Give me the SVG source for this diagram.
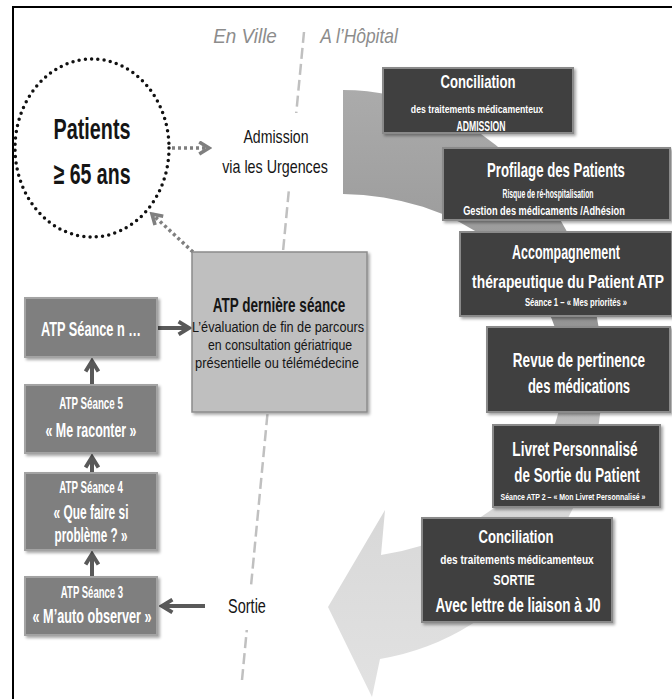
<svg xmlns="http://www.w3.org/2000/svg" width="672" height="699" viewBox="0 0 672 699">
<defs>
<style>
text{font-family:'Liberation Sans',Arial,sans-serif;text-anchor:middle}
.wt{fill:#fff;font-weight:bold}
.bk{fill:#151515}
.hd{fill:#8c8c8c;font-style:italic}
.dark{fill:#404040;stroke:#8a8a8a;stroke-width:2}
.mid{fill:#7f7f7f;stroke:#a3a3a3;stroke-width:2}
.solid{stroke:#595959;stroke-width:4;fill:none}
.dot{stroke:#7f7f7f;stroke-width:3.5;stroke-dasharray:3 3;fill:none}
</style>
<linearGradient id="bandG" gradientUnits="userSpaceOnUse" x1="0" y1="90" x2="0" y2="697">
<stop offset="0" stop-color="#ababab"/>
<stop offset="0.38" stop-color="#939393"/>
<stop offset="0.64" stop-color="#d6d6d6"/>
<stop offset="1" stop-color="#e2e2e2"/>
</linearGradient>
<filter id="sh" x="-10%" y="-10%" width="125%" height="130%">
<feDropShadow dx="2" dy="2" stdDeviation="1.8" flood-color="#000" flood-opacity="0.35"/>
</filter>
<marker id="chev" viewBox="0 0 10 10" refX="8" refY="5" markerWidth="16" markerHeight="16" markerUnits="userSpaceOnUse" orient="auto">
<path d="M1.5,1 L8,5 L1.5,9" fill="none" stroke="#595959" stroke-width="2.4"/>
</marker>
<marker id="chevG" viewBox="0 0 10 10" refX="8" refY="5" markerWidth="15" markerHeight="15" markerUnits="userSpaceOnUse" orient="auto">
<path d="M1.5,1 L8,5 L1.5,9" fill="none" stroke="#7f7f7f" stroke-width="2.4"/>
</marker>
</defs>
<rect width="672" height="699" fill="#fff"/>
<rect x="13" y="7" width="680" height="700" fill="none" stroke="#000" stroke-width="2"/>

<g id="flow-band">
<path d="M343,90 A260,286 0 0 1 380,659 L372,697 L328,607 L385,510 L381,555 A222,182 0 0 0 343,194 Z" fill="url(#bandG)"/>
</g>
<g id="divider">
<line x1="304" y1="32" x2="242" y2="680" stroke="#c0c0c0" stroke-width="2.5" stroke-dasharray="11 5"/>
<text class="hd" transform="translate(245,43) scale(.7,1)" font-size="20" textLength="91" lengthAdjust="spacingAndGlyphs">En Ville</text>
<text class="hd" transform="translate(359,43) scale(.7,1)" font-size="20" textLength="111" lengthAdjust="spacingAndGlyphs">A l’Hôpital</text>
</g>

<g id="connectors">
<line class="dot" x1="172" y1="148" x2="209" y2="148" marker-end="url(#chevG)"/>
<line class="dot" x1="193" y1="252" x2="152" y2="214" marker-end="url(#chevG)"/>
<line class="solid" x1="158" y1="328" x2="189" y2="328" marker-end="url(#chev)"/>
<line class="solid" x1="92" y1="385" x2="92" y2="361" marker-end="url(#chev)"/>
<line class="solid" x1="92" y1="473" x2="92" y2="457" marker-end="url(#chev)"/>
<line class="solid" x1="92" y1="577" x2="92" y2="554" marker-end="url(#chev)"/>
<line class="solid" x1="205" y1="606" x2="162" y2="606" marker-end="url(#chev)"/>
</g>

<g id="patients">
<ellipse cx="92" cy="148" rx="77" ry="89" fill="none" stroke="#111" stroke-width="3.5" stroke-linecap="round" stroke-dasharray="0 6.3"/>
<text class="bk" transform="translate(92,139) scale(.7,1)" font-size="30" font-weight="bold" textLength="110" lengthAdjust="spacingAndGlyphs">Patients</text>
<text class="bk" transform="translate(92,184) scale(.7,1)" font-size="30" font-weight="bold" textLength="110" lengthAdjust="spacingAndGlyphs">≥ 65 ans</text>
</g>

<g id="admission">
<rect x="213" y="113" width="124" height="77" fill="#fff"/>
<text class="bk" transform="translate(276,143) scale(.7,1)" font-size="19" textLength="93" lengthAdjust="spacingAndGlyphs">Admission</text>
<text class="bk" transform="translate(275,173) scale(.7,1)" font-size="19" textLength="151" lengthAdjust="spacingAndGlyphs">via les Urgences</text>
</g>

<g id="atp-derniere">
<rect x="192" y="252" width="175" height="160" fill="#bfbfbf" stroke="#8c8c8c" stroke-width="1.5" filter="url(#sh)"/>
<text class="bk" transform="translate(279,312) scale(.7,1)" font-size="21" font-weight="bold" textLength="189" lengthAdjust="spacingAndGlyphs">ATP dernière séance</text>
<text class="bk" transform="translate(278,332) scale(.7,1)" font-size="15" textLength="246" lengthAdjust="spacingAndGlyphs">L’évaluation de fin de parcours</text>
<text class="bk" transform="translate(280,350) scale(.7,1)" font-size="15" textLength="206" lengthAdjust="spacingAndGlyphs">en consultation gériatrique</text>
<text class="bk" transform="translate(277,368) scale(.7,1)" font-size="15" textLength="234" lengthAdjust="spacingAndGlyphs">présentielle ou télémédecine</text>
</g>

<g id="seance-n">
<rect class="mid" x="25" y="298" width="132" height="59" filter="url(#sh)"/>
<text class="wt" transform="translate(91,336) scale(.7,1)" font-size="20" textLength="143" lengthAdjust="spacingAndGlyphs">ATP Séance n …</text>
</g>
<g id="seance-5">
<rect class="mid" x="25" y="385" width="132" height="68" filter="url(#sh)"/>
<text class="wt" transform="translate(91,409) scale(.7,1)" font-size="16" textLength="91" lengthAdjust="spacingAndGlyphs">ATP Séance 5</text>
<text class="wt" transform="translate(91,437) scale(.7,1)" font-size="20" textLength="130" lengthAdjust="spacingAndGlyphs">« Me raconter »</text>
</g>
<g id="seance-4">
<rect class="mid" x="25" y="473" width="132" height="77" filter="url(#sh)"/>
<text class="wt" transform="translate(91,493) scale(.7,1)" font-size="16" textLength="91" lengthAdjust="spacingAndGlyphs">ATP Séance 4</text>
<text class="wt" transform="translate(91,519) scale(.7,1)" font-size="20" textLength="107" lengthAdjust="spacingAndGlyphs">« Que faire si</text>
<text class="wt" transform="translate(91,542) scale(.7,1)" font-size="20" textLength="104" lengthAdjust="spacingAndGlyphs">problème ? »</text>
</g>
<g id="seance-3">
<rect class="mid" x="25" y="577" width="132" height="58" filter="url(#sh)"/>
<text class="wt" transform="translate(92,598) scale(.7,1)" font-size="16" textLength="89" lengthAdjust="spacingAndGlyphs">ATP Séance 3</text>
<text class="wt" transform="translate(92,623) scale(.7,1)" font-size="20" textLength="170" lengthAdjust="spacingAndGlyphs">« M’auto observer »</text>
</g>

<g id="sortie">
<rect x="205" y="586" width="88" height="44" fill="#fff"/>
<text class="bk" transform="translate(247,613) scale(.7,1)" font-size="20" textLength="54" lengthAdjust="spacingAndGlyphs">Sortie</text>
</g>

<g id="conciliation-admission">
<rect class="dark" x="383" y="68" width="190" height="65" filter="url(#sh)"/>
<text class="wt" transform="translate(478,88) scale(.7,1)" font-size="19" textLength="107" lengthAdjust="spacingAndGlyphs">Conciliation</text>
<text class="wt" transform="translate(477,113) scale(.7,1)" font-size="11" textLength="189" lengthAdjust="spacingAndGlyphs">des traitements médicamenteux</text>
<text class="wt" transform="translate(481,131) scale(.7,1)" font-size="14" textLength="70" lengthAdjust="spacingAndGlyphs">ADMISSION</text>
</g>

<g id="profilage">
<rect class="dark" x="443" y="148" width="227" height="72" filter="url(#sh)"/>
<text class="wt" transform="translate(556,177) scale(.7,1)" font-size="20" textLength="197" lengthAdjust="spacingAndGlyphs">Profilage des Patients</text>
<text class="wt" transform="translate(548,198) scale(.7,1)" font-size="12" textLength="130" lengthAdjust="spacingAndGlyphs">Risque de ré-hospitalisation</text>
<text class="wt" transform="translate(544,215) scale(.7,1)" font-size="12" textLength="231" lengthAdjust="spacingAndGlyphs">Gestion des médicaments /Adhésion</text>
</g>

<g id="accompagnement">
<rect class="dark" x="460" y="232" width="212" height="84" filter="url(#sh)"/>
<text class="wt" transform="translate(566,259) scale(.7,1)" font-size="20" textLength="154" lengthAdjust="spacingAndGlyphs">Accompagnement</text>
<text class="wt" transform="translate(568,288) scale(.7,1)" font-size="19" textLength="274" lengthAdjust="spacingAndGlyphs">thérapeutique  du Patient ATP</text>
<text class="wt" transform="translate(576,306) scale(.7,1)" font-size="11" textLength="146" lengthAdjust="spacingAndGlyphs">Séance 1 – « Mes priorités »</text>
</g>

<g id="revue">
<rect class="dark" x="487" y="327" width="183" height="85" filter="url(#sh)"/>
<text class="wt" transform="translate(579,367) scale(.7,1)" font-size="21" textLength="189" lengthAdjust="spacingAndGlyphs">Revue de pertinence</text>
<text class="wt" transform="translate(579,393) scale(.7,1)" font-size="21" textLength="146" lengthAdjust="spacingAndGlyphs">des médications</text>
</g>

<g id="livret">
<rect class="dark" x="493" y="425" width="167" height="82" filter="url(#sh)"/>
<text class="wt" transform="translate(575,456) scale(.7,1)" font-size="21" textLength="179" lengthAdjust="spacingAndGlyphs">Livret Personnalisé</text>
<text class="wt" transform="translate(577,482) scale(.7,1)" font-size="21" textLength="179" lengthAdjust="spacingAndGlyphs">de Sortie du Patient</text>
<text class="wt" transform="translate(573,500) scale(.7,1)" font-size="9" textLength="207" lengthAdjust="spacingAndGlyphs">Séance ATP 2 – « Mon Livret Personnalisé »</text>
</g>

<g id="conciliation-sortie">
<rect class="dark" x="422" y="518" width="190" height="104" filter="url(#sh)"/>
<text class="wt" transform="translate(516,543) scale(.7,1)" font-size="19" textLength="107" lengthAdjust="spacingAndGlyphs">Conciliation</text>
<text class="wt" transform="translate(517,564) scale(.7,1)" font-size="12" textLength="219" lengthAdjust="spacingAndGlyphs">des traitements médicamenteux</text>
<text class="wt" transform="translate(514,585) scale(.7,1)" font-size="14" textLength="59" lengthAdjust="spacingAndGlyphs">SORTIE</text>
<text class="wt" transform="translate(518,612) scale(.7,1)" font-size="21" textLength="236" lengthAdjust="spacingAndGlyphs">Avec lettre de liaison à  J0</text>
</g>
</svg>
